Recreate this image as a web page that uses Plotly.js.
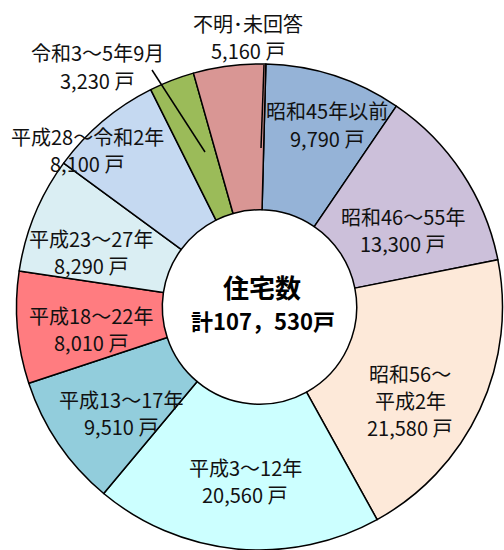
<!DOCTYPE html>
<html>
<head>
<meta charset="utf-8">
<script src="https://cdn.plot.ly/plotly-3.0.1.min.js"></script>
<style>html,body{margin:0;padding:0;background:#fff;}#chart{width:504px;height:550px;}</style>
</head>
<body>
<div id="chart"></div>
<script>
// Data
var categories = ['昭和45年以前', '昭和46～55年', '昭和56～平成2年', '平成3～12年', '平成13～17年',
                  '平成18～22年', '平成23～27年', '平成28～令和2年', '令和3～5年9月', '不明･未回答'];
var labelLines = [['昭和45年以前'], ['昭和46～55年'], ['昭和56～', '平成2年'], ['平成3～12年'], ['平成13～17年'],
                  ['平成18～22年'], ['平成23～27年'], ['平成28～令和2年'], ['令和3～5年9月'], ['不明･未回答']];
var values = [9790, 13300, 21580, 20560, 9510, 8010, 8290, 8100, 3230, 5160];
var unit = '戸';
var centerTitle = '住宅数';
var centerTotal = '計107，530戸';

var colors = ['#95B3D7', '#CCC0DA', '#FDE9D9', '#CCFFFF', '#92CDDC',
              '#FF7C80', '#DAEEF3', '#C5D9F1', '#9BBB59', '#D99694'];

// label anchor positions in pixels (layout only): x center, y of first line
var labelPos = [[327,111],[403,216],[410,373],[245,467],[121,399],
                [91,315],[91,238],[87,137],[97,53],[248,23]];
var lineGap = 27;

var W = 504, H = 550;
function px(x){return x/W;}
function py(y){return 1 - y/H;}

var font = {family: '"Noto Sans CJK JP", "Noto Sans", sans-serif', size: 20, color: '#111'};

var annotations = [];
labelLines.forEach(function(lines, i){
  var all = lines.concat([values[i].toLocaleString('en-US') + ' ' + unit]);
  all.forEach(function(t, k){
    annotations.push({
      text: t,
      x: px(labelPos[i][0]), y: py(labelPos[i][1] + k * lineGap), xref: 'paper', yref: 'paper',
      xanchor: 'center', yanchor: 'middle', showarrow: false, font: font
    });
  });
});
annotations.push({text: '<b>' + centerTitle + '</b>', x: px(262), y: py(286), xref: 'paper', yref: 'paper',
  showarrow: false, xanchor: 'center', yanchor: 'middle',
  font: {family: '"Noto Sans CJK JP", sans-serif', size: 26, color: '#000'}});
annotations.push({text: '<b>' + centerTotal + '</b>', x: px(263), y: py(320), xref: 'paper', yref: 'paper',
  showarrow: false, xanchor: 'center', yanchor: 'middle',
  font: {family: '"Noto Sans CJK JP", sans-serif', size: 22, color: '#000'}});

var shapes = [
  {type: 'line', xref: 'paper', yref: 'paper', x0: px(152), y0: py(70), x1: px(205), y1: py(152),
   line: {color: '#000', width: 1.5}},
  {type: 'line', xref: 'paper', yref: 'paper', x0: px(264), y0: py(65), x1: px(261), y1: py(148),
   line: {color: '#000', width: 1.5}}
];

var cx = 259.5, cy = 307.5, r = 243.5;
var trace = {
  type: 'pie',
  labels: categories,
  values: values,
  sort: false,
  direction: 'clockwise',
  rotation: 1.5,
  hole: 0.40,
  textinfo: 'none',
  hoverinfo: 'label+value',
  marker: {colors: colors, line: {color: '#000', width: 1.5}},
  domain: {x: [px(cx - r), px(cx + r)], y: [Math.max(0, py(cy + r)), py(cy - r)]},
  showlegend: false
};

var layout = {
  width: W, height: H,
  margin: {l: 0, r: 0, t: 0, b: 0},
  paper_bgcolor: '#fff',
  showlegend: false,
  annotations: annotations,
  shapes: shapes
};

Plotly.newPlot('chart', [trace], layout, {displayModeBar: false, staticPlot: true});
</script>
</body>
</html>
